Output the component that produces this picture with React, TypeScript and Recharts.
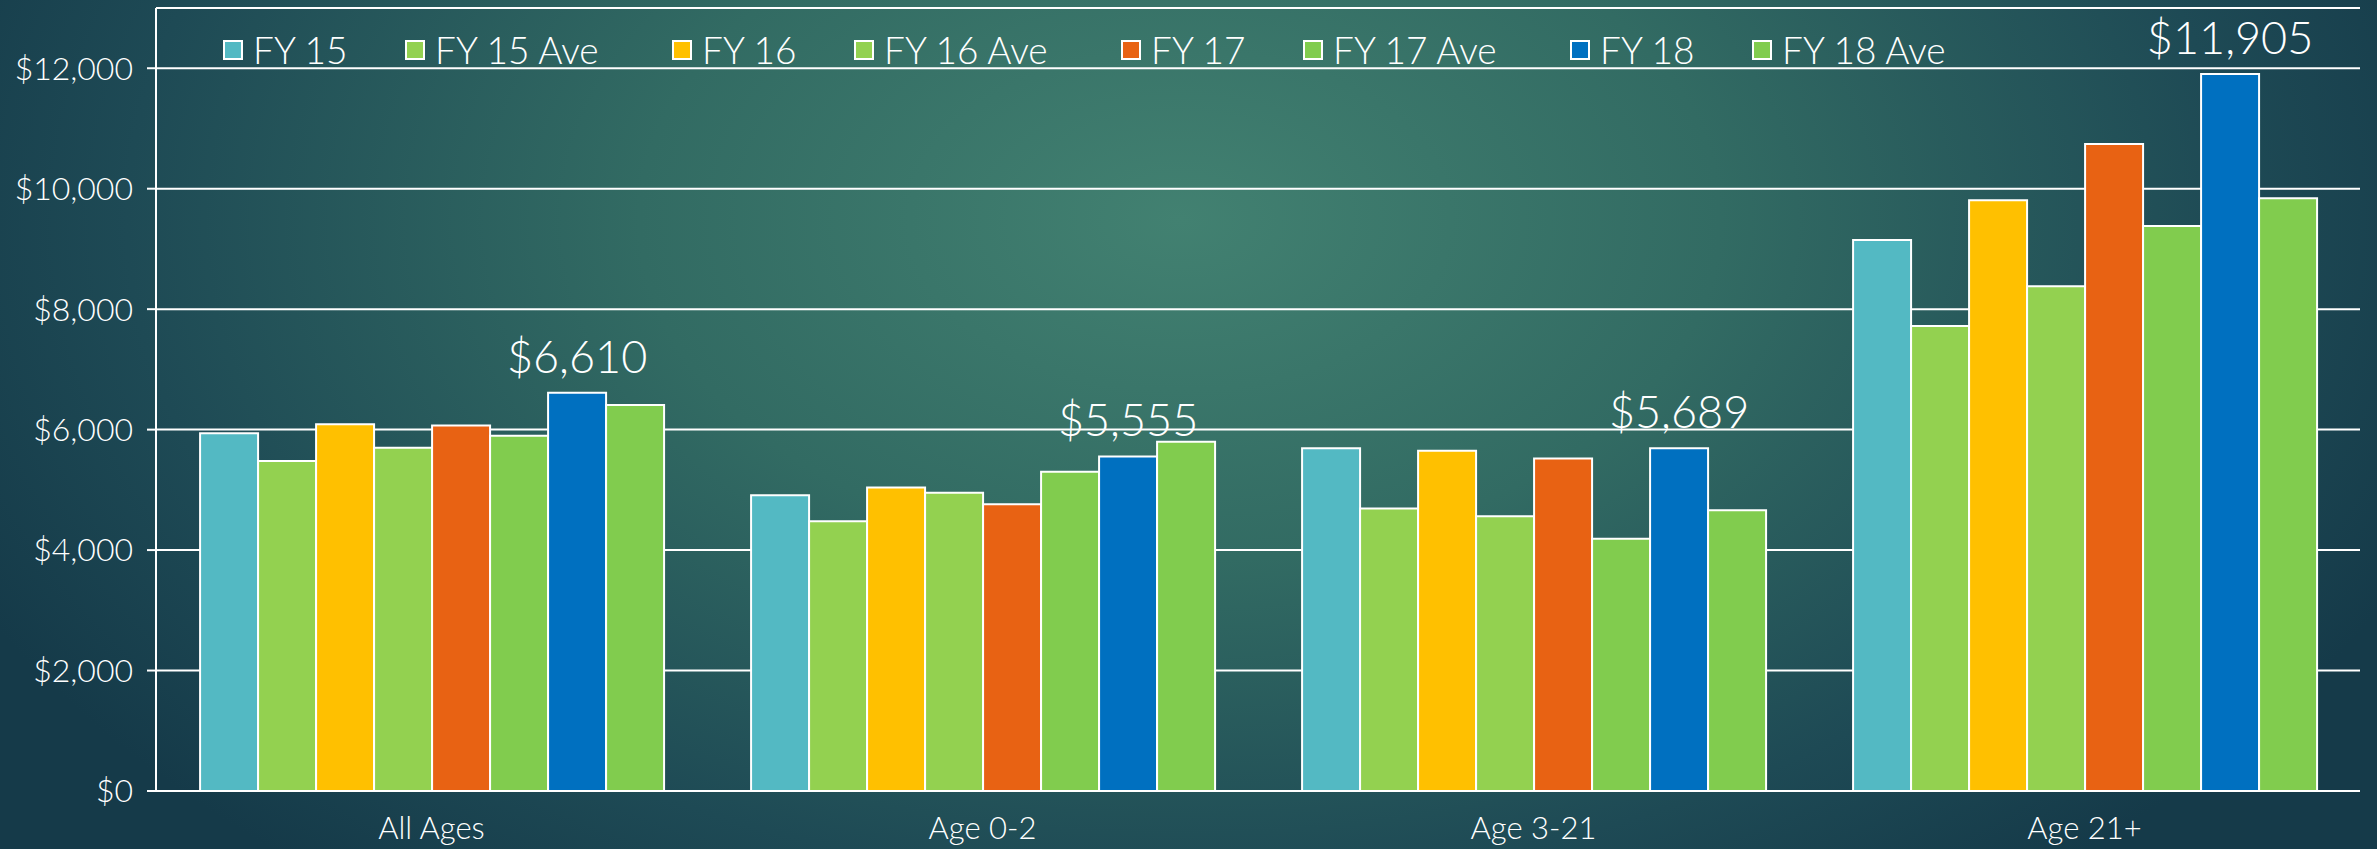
import React from 'react';
import { BarChart, Bar, XAxis, YAxis, CartesianGrid, Legend, LabelList } from 'recharts';

// values
const categories = ['All Ages', 'Age 0-2', 'Age 3-21', 'Age 21+'];
const fy15 = [5940, 4910, 5690, 9150];
const fy15Ave = [5480, 4480, 4690, 7720];
const fy16 = [6090, 5040, 5650, 9810];
const fy16Ave = [5700, 4950, 4560, 8380];
const fy17 = [6070, 4760, 5520, 10740];
const fy17Ave = [5900, 5300, 4190, 9380];
const fy18 = [6610, 5555, 5689, 11905];
const fy18Ave = [6410, 5800, 4660, 9840];
const yTicks = [0, 2000, 4000, 6000, 8000, 10000, 12000];

const series = [
  { key: 'fy15', name: 'FY 15', color: '#53B9C3', values: fy15 },
  { key: 'fy15Ave', name: 'FY 15 Ave', color: '#93D150', values: fy15Ave },
  { key: 'fy16', name: 'FY 16', color: '#FFC000', values: fy16 },
  { key: 'fy16Ave', name: 'FY 16 Ave', color: '#93D150', values: fy16Ave },
  { key: 'fy17', name: 'FY 17', color: '#E86213', values: fy17 },
  { key: 'fy17Ave', name: 'FY 17 Ave', color: '#81CC4E', values: fy17Ave },
  { key: 'fy18', name: 'FY 18', color: '#0070C0', values: fy18 },
  { key: 'fy18Ave', name: 'FY 18 Ave', color: '#81CC4E', values: fy18Ave },
];

const data = categories.map((cat, i) => {
  const row: Record<string, string | number> = { cat };
  series.forEach(s => {
    row[s.key] = s.values[i];
  });
  return row;
});

const money = (v: number) => `$${Number(v).toLocaleString('en-US')}`;

const renderLegend = () => (
  <div style={{ display: 'flex', alignItems: 'center', height: 40 }}>
    {series.map(s => (
      <div
        key={s.key}
        style={{
          display: 'flex',
          alignItems: 'center',
          width: s.name.includes('Ave') ? 267 : 182,
          color: '#fff',
          fontSize: 37,
          fontWeight: 300,
          lineHeight: '40px',
          whiteSpace: 'nowrap',
        }}
      >
        <span
          style={{
            display: 'inline-block',
            width: 16,
            height: 16,
            background: s.color,
            border: '2px solid #fff',
            marginRight: 10,
          }}
        />
        {s.name}
      </div>
    ))}
  </div>
);

export default function App() {
  return (
    <div
      style={{
        position: 'absolute',
        left: 0,
        top: 0,
        width: 2377,
        height: 849,
        fontFamily: 'Lato, sans-serif',
        fontWeight: 300,
        background:
          'radial-gradient(ellipse 1350px 850px at 1180px 220px, #428171 0%, #326B63 40%, #1E4A55 78%, #153A49 100%)',
      }}
    >
      <BarChart
        width={2377}
        height={849}
        data={data}
        margin={{ top: 8, right: 17, bottom: 0, left: 0 }}
        barCategoryGap="8%"
        barGap={0}
      >
        <CartesianGrid vertical={false} stroke="#ffffff" strokeWidth={2} />
        <XAxis
          dataKey="cat"
          height={58}
          axisLine={{ stroke: '#ffffff', strokeWidth: 2 }}
          tickLine={false}
          tickSize={0}
          tickMargin={26}
          tick={{ fill: '#ffffff', fontSize: 31 }}
        />
        <YAxis
          width={156}
          domain={[0, 13000]}
          ticks={yTicks}
          tickFormatter={money}
          axisLine={{ stroke: '#ffffff', strokeWidth: 2 }}
          tickLine={{ stroke: '#ffffff', strokeWidth: 2 }}
          tickSize={9}
          tickMargin={14}
          tick={{ fill: '#ffffff', fontSize: 32 }}
        />
        <Legend
          layout="vertical"
          align="center"
          verticalAlign="middle"
          content={renderLegend}
          wrapperStyle={{ top: 30, left: 223, width: 'auto' }}
        />
        {series.map(s => (
          <Bar
            key={s.key}
            dataKey={s.key}
            name={s.name}
            fill={s.color}
            stroke="#ffffff"
            strokeWidth={2}
            isAnimationActive={false}
          >
            {s.key === 'fy18' && (
              <LabelList
                dataKey={s.key}
                position="top"
                offset={20}
                formatter={(v: any) => money(v)}
                fill="#ffffff"
                fontSize={45}
              />
            )}
          </Bar>
        ))}
      </BarChart>
    </div>
  );
}
